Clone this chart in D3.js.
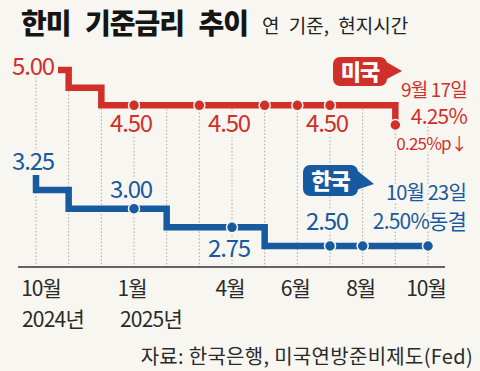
<!DOCTYPE html>
<html>
<head>
<meta charset="utf-8">
<script src="https://cdn.jsdelivr.net/npm/d3@7"></script>
<style>
  html, body { margin: 0; padding: 0; background: #f8f6f0; }
  svg { display: block; font-family: 'Noto Sans CJK KR', 'Noto Sans', sans-serif; }
  .halo { paint-order: stroke; stroke: #f8f6f0; stroke-width: 5px; stroke-linejoin: round; }
</style>
</head>
<body>
<script>
// months on the x axis (one grid line per month)
const months = ['2024-10', '2024-11', '2024-12', '2025-01', '2025-02', '2025-03',
  '2025-04', '2025-05', '2025-06', '2025-07', '2025-08', '2025-09', '2025-10'];

// US federal funds rate (upper bound), by month
const usRate = [5.00, 4.75, 4.50, 4.50, 4.50, 4.50, 4.50, 4.50, 4.50, 4.50, 4.50, 4.25];
// Korea base rate, by month
const krRate = [3.25, 3.00, 3.00, 3.00, 2.75, 2.75, 2.75, 2.50, 2.50, 2.50, 2.50, 2.50, 2.50];

// meeting dots
const usDots = ['2025-01', '2025-03', '2025-05', '2025-06', '2025-07', '2025-09'];
const krDots = ['2025-01', '2025-04', '2025-07', '2025-08', '2025-10'];

// value labels
const usLabels = [['2024-10', 5.00], ['2025-01', 4.50], ['2025-04', 4.50], ['2025-07', 4.50]];
const krLabels = [['2024-10', 3.25], ['2025-01', 3.00], ['2025-04', 2.75], ['2025-07', 2.50]];

// axis tick labels
const tickMonths = ['2024-10', '2025-01', '2025-04', '2025-06', '2025-08', '2025-10'];
const tickLabels = ['10월', '1월', '4월', '6월', '8월', '10월'];
const yearLabels = [['2024-10', '2024년'], ['2025-01', '2025년']];

const usNote = ['9월 17일', '4.25%', '0.25%p↓'];
const krNote = ['10월 23일', '2.50%동결'];

const width = 480;
const height = 371;
const red = '#d1302a';
const blue = '#175a9f';
const bg = '#f8f6f0';

// Scales
const x = d3.scalePoint().domain(months).range([36, 428]);
// the chart squeezes the gap between the two series
const y = d3.scaleLinear().domain([2.5, 3.25, 4.25, 5]).range([246, 190, 123, 70]);

const fmt = d3.format('.2f');

const svg = d3.select('body')
  .append('svg')
  .attr('width', width)
  .attr('height', height);

svg.append('rect')
  .attr('width', width)
  .attr('height', height)
  .attr('fill', bg);

// Title
svg.append('text')
  .attr('x', 21)
  .attr('y', 34)
  .attr('font-size', 28)
  .attr('font-weight', 900)
  .attr('letter-spacing', -1)
  .attr('word-spacing', 9)
  .attr('fill', '#151515')
  .text('한미 기준금리 추이');

svg.append('text')
  .attr('x', 262)
  .attr('y', 33)
  .attr('font-size', 19)
  .attr('word-spacing', 5)
  .attr('fill', '#222')
  .text('연 기준, 현지시간');

// Grid lines (from the red series down to the axis)
const axisY = 267;
svg.selectAll('line.grid')
  .data(months)
  .enter()
  .append('line')
  .attr('class', 'grid')
  .attr('x1', (d) => x(d))
  .attr('x2', (d) => x(d))
  .attr('y1', (d, i) => y(usRate[Math.min(i, usRate.length - 1)]))
  .attr('y2', axisY)
  .attr('stroke', '#a9a7a2')
  .attr('stroke-width', 1)
  .attr('stroke-dasharray', '1.5,2');

// X axis
svg.append('line')
  .attr('x1', 18)
  .attr('x2', 445)
  .attr('y1', axisY)
  .attr('y2', axisY)
  .attr('stroke', '#333')
  .attr('stroke-width', 1.5);

svg.selectAll('text.tick')
  .data(tickMonths)
  .enter()
  .append('text')
  .attr('class', 'tick')
  .attr('x', (d, i) => x(d) + (i === 0 ? 5 : -2))
  .attr('y', 296)
  .attr('text-anchor', 'middle')
  .attr('font-size', 21)
  .attr('letter-spacing', -1)
  .attr('fill', '#2a2a2a')
  .text((d, i) => tickLabels[i]);

svg.selectAll('text.year')
  .data(yearLabels)
  .enter()
  .append('text')
  .attr('class', 'year')
  .attr('x', (d) => x(d[0]) - 14)
  .attr('y', 327)
  .attr('font-size', 21)
  .attr('letter-spacing', -0.8)
  .attr('fill', '#2a2a2a')
  .text((d) => d[1]);

// Lines
const line = d3.line()
  .x((d) => d[0])
  .y((d) => y(d[1]))
  .curve(d3.curveStepAfter);

const usPts = usRate.map((v, i) => [x(months[i]), v]);
usPts[0][0] += 22; // leave room for the 5.00 label
svg.append('path')
  .attr('d', line(usPts))
  .attr('fill', 'none')
  .attr('stroke', red)
  .attr('stroke-width', 6.5);

const krPts = krRate.map((v, i) => [x(months[i]), v]);
svg.append('path')
  .attr('d', `M${x(months[0])},${y(krRate[0]) - 15}` + line(krPts).replace(/^M/, 'L'))
  .attr('fill', 'none')
  .attr('stroke', blue)
  .attr('stroke-width', 6.5);

// Dots
svg.selectAll('circle.us')
  .data(usDots)
  .enter()
  .append('circle')
  .attr('class', 'us')
  .attr('cx', (d) => x(d))
  .attr('cy', (d) => y(usRate[months.indexOf(d)]) + (d === '2025-09' ? 2 : 0))
  .attr('r', 5.5)
  .attr('fill', red)
  .attr('stroke', bg)
  .attr('stroke-width', 1.5);

svg.selectAll('circle.kr')
  .data(krDots)
  .enter()
  .append('circle')
  .attr('class', 'kr')
  .attr('cx', (d) => x(d))
  .attr('cy', (d) => y(krRate[months.indexOf(d)]))
  .attr('r', 5.5)
  .attr('fill', blue)
  .attr('stroke', bg)
  .attr('stroke-width', 1.5);

// Value labels
const usOffset = [5, 27, 27, 27];
svg.selectAll('text.uslab')
  .data(usLabels)
  .enter()
  .append('text')
  .attr('class', 'uslab halo')
  .attr('x', (d) => x(d[0]) - 3)
  .attr('y', (d, i) => y(d[1]) + usOffset[i])
  .attr('text-anchor', 'middle')
  .attr('font-size', 24)
  .attr('letter-spacing', -1.2)
  .attr('fill', red)
  .text((d) => fmt(d[1]));

const krOffset = [-20, -11, 30, -16];
svg.selectAll('text.krlab')
  .data(krLabels)
  .enter()
  .append('text')
  .attr('class', 'krlab halo')
  .attr('x', (d) => x(d[0]) - 3)
  .attr('y', (d, i) => y(d[1]) + krOffset[i])
  .attr('text-anchor', 'middle')
  .attr('font-size', 24)
  .attr('letter-spacing', -1.2)
  .attr('fill', blue)
  .text((d) => fmt(d[1]));

// Callout boxes
function callout(bx, by, w, h, tipX, tipY, color, label) {
  const g = svg.append('g');
  g.append('path')
    .attr('d', `M${bx + w - 4},${by + 3} L${tipX},${tipY} L${bx + w - 2},${by + h - 6} Z`)
    .attr('fill', color);
  g.append('rect')
    .attr('x', bx)
    .attr('y', by)
    .attr('width', w)
    .attr('height', h)
    .attr('rx', 7)
    .attr('fill', color);
  g.append('text')
    .attr('x', bx + w / 2)
    .attr('y', by + h / 2 + 8)
    .attr('text-anchor', 'middle')
    .attr('font-size', 22)
    .attr('font-weight', 900)
    .attr('letter-spacing', -1)
    .attr('fill', '#fff')
    .text(label);
}
callout(333, 57, 54, 29, 402, 71, red, '미국');
callout(303, 165, 55, 31, 374, 184, blue, '한국');

// Notes
const usNoteY = [97, 124, 150];
const usNoteSize = [19, 21, 17];
svg.selectAll('text.usnote')
  .data(usNote)
  .enter()
  .append('text')
  .attr('class', 'usnote halo')
  .attr('x', 467)
  .attr('y', (d, i) => usNoteY[i])
  .attr('text-anchor', 'end')
  .attr('font-size', (d, i) => usNoteSize[i])
  .attr('letter-spacing', -0.8)
  .attr('fill', red)
  .text((d) => d);

const krNoteY = [200, 229];
svg.selectAll('text.krnote')
  .data(krNote)
  .enter()
  .append('text')
  .attr('class', 'krnote halo')
  .attr('x', 466)
  .attr('y', (d, i) => krNoteY[i])
  .attr('text-anchor', 'end')
  .attr('font-size', (d, i) => (i === 0 ? 20 : 21))
  .attr('letter-spacing', -0.8)
  .attr('fill', blue)
  .text((d) => d);

// Source
svg.append('text')
  .attr('x', 473)
  .attr('y', 364)
  .attr('text-anchor', 'end')
  .attr('font-size', 20)
  .attr('letter-spacing', 0.3)
  .attr('fill', '#2a2a2a')
  .text('자료: 한국은행, 미국연방준비제도(Fed)');
</script>
</body>
</html>
